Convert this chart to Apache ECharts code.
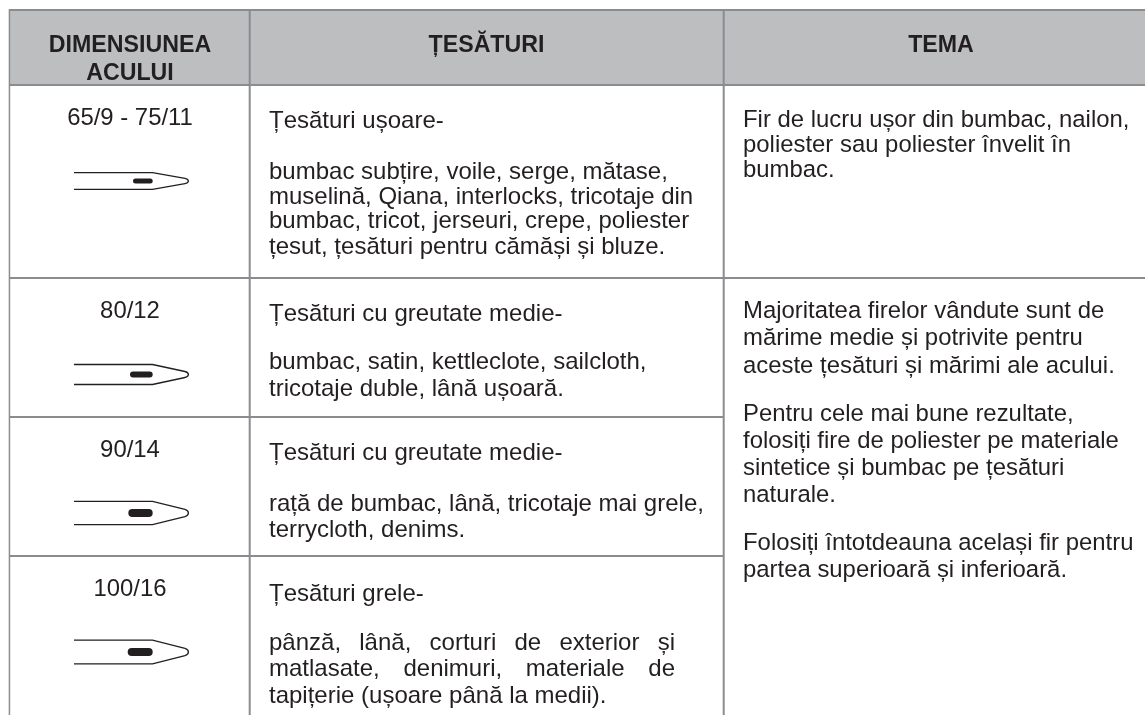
<!DOCTYPE html>
<html>
<head>
<meta charset="utf-8">
<style>
  html, body { margin: 0; padding: 0; background: #fff; }
  #main { width: 1145px; height: 715px; }
</style>
<script src="https://cdn.jsdelivr.net/npm/echarts@6/dist/echarts.min.js"></script>
</head>
<body>
<div id="main"></div>
<script>
// continutul tabelului
const headerCol1 = ['DIMENSIUNEA', 'ACULUI']
const headerCol2 = 'ȚESĂTURI'
const headerCol3 = 'TEMA'
const needleSizes = ['65/9 - 75/11', '80/12', '90/14', '100/16']
const fabricTitles = ['Țesături ușoare-', 'Țesături cu greutate medie-', 'Țesături cu greutate medie-', 'Țesături grele-']
const fabricLines = [
    ['bumbac subțire, voile, serge, mătase,', 'muselină, Qiana, interlocks, tricotaje din', 'bumbac, tricot, jerseuri, crepe, poliester', 'țesut, țesături pentru cămăși și bluze.'],
    ['bumbac, satin, kettleclote, sailcloth,', 'tricotaje duble, lână ușoară.'],
    ['rață de bumbac, lână, tricotaje mai grele,', 'terrycloth, denims.'],
    ['pânză, lână, corturi de exterior și', 'matlasate, denimuri, materiale de', 'tapițerie (ușoare până la medii).']
]
const threadLight = ['Fir de lucru ușor din bumbac, nailon,', 'poliester sau poliester învelit în', 'bumbac.']
const threadMedium = [
    'Majoritatea firelor vândute sunt de', 'mărime medie și potrivite pentru', 'aceste țesături și mărimi ale acului.',
    'Pentru cele mai bune rezultate,', 'folosiți fire de poliester pe materiale', 'sintetice și bumbac pe țesături', 'naturale.',
    'Folosiți întotdeauna același fir pentru', 'partea superioară și inferioară.'
]

// asezarea in pagina (separat de date)
const W = 1145, H = 715
const FONT = '"Liberation Sans", Arial, sans-serif'
const SIZE_BODY = 23.9, SIZE_FABRIC = 24, SIZE_HEAD = 23.2
const INK = '#231f20', RULE = '#8a8c8f', HEAD_BG = '#bcbec0'
const COL1 = 130, COL2 = 269, COL2_MID = 486.5, COL3 = 743, COL3_MID = 941
const JUSTIFY_RIGHT = 675

const sizeBase = [124, 317, 456, 595]
const titleBase = [127, 320, 459, 600]
const fabricBase = [[178, 203, 227, 253], [368, 395], [510, 536], [649, 675, 702]]
const lightBase = [126, 151, 176]
const mediumBase = [317, 344, 372, 420, 447, 474, 501, 549, 576]

// needle: cy, half height, hole start, hole height, half tip
const needleGeom = [
    [181, 8.3, 133, 5, 2.6],
    [374.5, 10, 130, 6, 3],
    [513, 11.6, 128.3, 8, 3.6],
    [652, 11.8, 127.7, 8, 3.6]
]

// [x, y, w, h]
const rects = [
    [9, 10, 1136, 75, HEAD_BG],
    [9, 9, 1136, 2, RULE],
    [9, 84, 1136, 2, RULE],
    [9, 277, 1136, 2, RULE],
    [9, 416, 715, 2, RULE],
    [9, 555, 715, 2, RULE],
    [8.7, 9, 1.5, 706, RULE],
    [248.7, 9, 2, 706, RULE],
    [722.7, 9, 2, 706, RULE]
]

const measure = document.createElement('canvas').getContext('2d')

const textItems = []
function addText(text, x, base, align, size, bold) {
    textItems.push({ text, x, y: base - size * 0.22, align, size, bold })
}
function addJustified(text, x, base, right, size) {
    const words = text.split(' ')
    measure.font = `${size}px ${FONT}`
    const widths = words.map(w => measure.measureText(w).width)
    const used = widths.reduce((a, b) => a + b, 0)
    const gap = (right - x - used) / (words.length - 1)
    let cur = x
    words.forEach((w, i) => {
        addText(w, cur, base, 'left', size, false)
        cur += widths[i] + gap
    })
}

addText(headerCol1[0], COL1, 51, 'center', SIZE_HEAD, true)
addText(headerCol1[1], COL1, 79, 'center', SIZE_HEAD, true)
addText(headerCol2, COL2_MID, 51, 'center', SIZE_HEAD, true)
addText(headerCol3, COL3_MID, 51, 'center', SIZE_HEAD, true)

needleSizes.forEach((s, i) => addText(s, COL1, sizeBase[i], 'center', SIZE_BODY, false))
fabricTitles.forEach((s, i) => addText(s, COL2, titleBase[i], 'left', SIZE_FABRIC, false))
fabricLines.forEach((lines, i) => {
    lines.forEach((s, j) => {
        // ultimul rand are text aliniat stanga-dreapta, in afara de ultima linie
        if (i === 3 && j < 2) addJustified(s, COL2, fabricBase[i][j], JUSTIFY_RIGHT, SIZE_FABRIC)
        else addText(s, COL2, fabricBase[i][j], 'left', SIZE_FABRIC, false)
    })
})
threadLight.forEach((s, i) => addText(s, COL3, lightBase[i], 'left', SIZE_BODY, false))
threadMedium.forEach((s, i) => addText(s, COL3, mediumBase[i], 'left', SIZE_BODY, false))

function renderRect(params, api) {
    const r = rects[params.dataIndex]
    const p = api.coord([r[0], r[1]])
    const q = api.coord([r[0] + r[2], r[1] + r[3]])
    return { type: 'rect', shape: { x: p[0], y: p[1], width: q[0] - p[0], height: q[1] - p[1] }, style: { fill: r[4] } }
}

function renderNeedle(params, api) {
    const [cy, half, holeX, holeH, tip] = needleGeom[params.dataIndex]
    const c = (x, y) => api.coord([x, y])
    const line = { stroke: INK, lineWidth: 1.3, fill: null }
    return {
        type: 'group',
        children: [
            { type: 'polyline', shape: { points: [c(74, cy - half), c(152.5, cy - half), c(185, cy - tip)] }, style: line },
            { type: 'polyline', shape: { points: [c(74, cy + half), c(152.5, cy + half), c(185, cy + tip)] }, style: line },
            { type: 'bezierCurve', shape: { x1: 185, y1: cy - tip, x2: 185, y2: cy + tip, cpx1: 189.5, cpy1: cy - tip * 0.6, cpx2: 189.5, cpy2: cy + tip * 0.6 }, style: line },
            { type: 'rect', shape: { x: holeX, y: cy - holeH / 2, width: 152.7 - holeX, height: holeH, r: holeH / 2 }, style: { fill: INK } }
        ]
    }
}

function renderText(params, api) {
    const t = textItems[params.dataIndex]
    const p = api.coord([t.x, t.y])
    return {
        type: 'text',
        x: p[0],
        y: p[1],
        style: {
            text: t.text,
            fill: INK,
            font: `${t.bold ? 'bold ' : ''}${t.size}px ${FONT}`,
            align: t.align,
            verticalAlign: 'middle'
        }
    }
}

const myChart = echarts.init(document.querySelector('#main'), null, { renderer: 'canvas' })

myChart.setOption({
    animation: false,
    backgroundColor: '#fff',
    grid: { left: 0, right: 0, top: 0, bottom: 0 },
    xAxis: { type: 'value', min: 0, max: W, show: false },
    yAxis: { type: 'value', min: 0, max: H, inverse: true, show: false },
    tooltip: { show: false },
    series: [
        { type: 'custom', silent: true, clip: false, data: rects.map((r, i) => [i]), encode: { x: 0, y: 0 }, renderItem: renderRect },
        { type: 'custom', silent: true, clip: false, data: needleGeom.map((r, i) => [i]), encode: { x: 0, y: 0 }, renderItem: renderNeedle },
        { type: 'custom', silent: true, clip: false, data: textItems.map((r, i) => [i]), encode: { x: 0, y: 0 }, renderItem: renderText }
    ]
})
</script>
</body>
</html>
